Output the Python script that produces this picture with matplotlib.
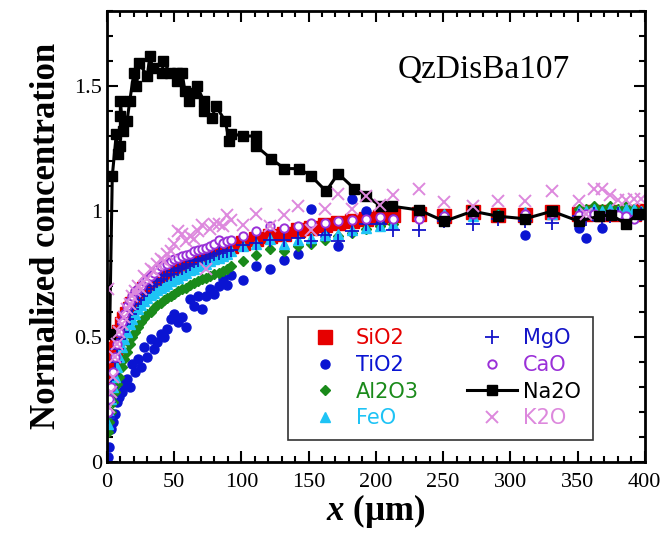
import matplotlib
matplotlib.use("Agg")
import matplotlib.pyplot as plt
from matplotlib.ticker import MultipleLocator

plt.rcParams["font.family"] = ["Liberation Serif", "DejaVu Serif"]
plt.rcParams["mathtext.fontset"] = "custom"
plt.rcParams["mathtext.bfit"] = "Liberation Serif:italic:bold"

# traverse positions shared by most oxides (um)
x_pts = [0.5, 1.5, 3, 4.5, 6, 7.5, 9, 11, 13, 15, 17, 19, 21, 23, 25, 27.5, 30, 32.5, 35, 37.5,
         40, 42.5, 45, 47.5, 50, 53, 56, 59, 62, 65, 68, 71, 74, 77, 80, 83, 86, 89, 92, 101,
         111, 121, 132, 142, 152, 162, 172, 182, 193, 203, 213, 232, 251, 272, 291, 311, 331, 351, 356, 362,
         368, 374, 380, 386, 392, 397]

sio2 = [0.16, 0.27, 0.33, 0.39, 0.45, 0.49, 0.52, 0.55, 0.57, 0.59, 0.61, 0.63, 0.645, 0.66, 0.675, 0.69, 0.70, 0.71, 0.72, 0.73,
        0.74, 0.75, 0.755, 0.76, 0.77, 0.78, 0.785, 0.79, 0.80, 0.81, 0.815, 0.82, 0.83, 0.835, 0.84, 0.845, 0.85, 0.855, 0.86, 0.875,
        0.89, 0.90, 0.91, 0.925, 0.935, 0.945, 0.955, 0.96, 0.97, 0.975, 0.985, 0.99, 0.98, 0.995, 0.985, 0.985, 0.995, 0.99, 0.99, 0.995,
        0.99, 0.995, 0.99, 0.995, 0.99, 1.0]

tio2 = [0.02, 0.06, 0.13, 0.16, 0.19, 0.24, 0.26, 0.28, 0.31, 0.33, 0.30, 0.39, 0.36, 0.41, 0.38, 0.46, 0.42, 0.49, 0.45, 0.48,
        0.51, 0.50, 0.53, 0.57, 0.59, 0.56, 0.58, 0.54, 0.65, 0.62, 0.66, 0.61, 0.66, 0.69, 0.67, 0.70, 0.73, 0.705, 0.745, 0.725,
        0.78, 0.77, 0.805, 0.83, 1.01, 0.90, 0.86, 1.05, 1.0, 0.95, 0.97, 0.99, 0.98, 0.99, 0.98, 0.905, 0.99, 0.935, 0.895, 0.98,
        0.935, 0.99, 0.99, 0.98, 0.99, 0.99]

al2o3 = [0.12, 0.16, 0.20, 0.24, 0.28, 0.31, 0.34, 0.38, 0.41, 0.44, 0.47, 0.50, 0.52, 0.54, 0.56, 0.575, 0.59, 0.60, 0.615, 0.625,
         0.635, 0.645, 0.655, 0.66, 0.67, 0.68, 0.69, 0.695, 0.705, 0.715, 0.72, 0.73, 0.735, 0.74, 0.75, 0.755, 0.76, 0.77, 0.78, 0.80,
         0.825, 0.85, 0.84, 0.86, 0.87, 0.885, 0.90, 0.915, 0.93, 0.94, 0.95, 0.99, 0.985, 0.99, 0.99, 0.99, 0.995, 1.01, 1.01, 1.02,
         1.01, 1.02, 1.01, 1.02, 1.01, 1.0]

feo = [0.15, 0.20, 0.25, 0.30, 0.34, 0.38, 0.42, 0.46, 0.49, 0.52, 0.55, 0.57, 0.59, 0.61, 0.625, 0.64, 0.655, 0.665, 0.675, 0.685,
       0.695, 0.70, 0.71, 0.72, 0.73, 0.735, 0.745, 0.755, 0.765, 0.77, 0.78, 0.785, 0.79, 0.80, 0.81, 0.815, 0.82, 0.83, 0.84, 0.86,
       0.87, 0.89, 0.87, 0.885, 0.895, 0.905, 0.91, 0.925, 0.935, 0.94, 0.95, 0.99, 0.99, 0.98, 0.985, 0.995, 0.99, 1.0, 1.0, 1.01,
       1.0, 1.01, 1.0, 1.01, 1.01, 1.0]

mgo = [0.18, 0.24, 0.30, 0.35, 0.40, 0.45, 0.49, 0.52, 0.55, 0.57, 0.59, 0.61, 0.63, 0.645, 0.66, 0.675, 0.69, 0.70, 0.71, 0.72,
       0.73, 0.74, 0.745, 0.75, 0.76, 0.77, 0.775, 0.78, 0.79, 0.80, 0.805, 0.81, 0.815, 0.82, 0.83, 0.835, 0.84, 0.84, 0.845, 0.866,
       0.872, 0.886, 0.886, 0.892, 0.88, 0.905, 0.88, 0.92, 0.95, 0.95, 0.925, 0.925, 0.96, 0.95, 0.97, 0.96, 0.955, 0.98, 0.97, 0.99,
       0.97, 0.98, 0.99, 0.97, 0.98, 0.99]

cao = [0.20, 0.25, 0.30, 0.36, 0.42, 0.47, 0.52, 0.56, 0.59, 0.62, 0.64, 0.66, 0.68, 0.69, 0.70, 0.72, 0.73, 0.74, 0.755, 0.77,
       0.78, 0.785, 0.79, 0.80, 0.81, 0.815, 0.82, 0.825, 0.83, 0.84, 0.845, 0.85, 0.855, 0.86, 0.87, 0.885, 0.875, 0.88, 0.885, 0.90,
       0.92, 0.94, 0.935, 0.94, 0.955, 0.955, 0.96, 0.965, 0.97, 0.975, 0.97, 0.97, 0.98, 0.99, 0.98, 0.99, 0.99, 0.985, 0.99, 0.99,
       0.98, 0.99, 0.985, 0.98, 0.97, 0.99]

k2o = [0.69, 0.22, 0.28, 0.34, 0.42, 0.47, 0.52, 0.55, 0.58, 0.61, 0.63, 0.66, 0.68, 0.70, 0.69, 0.74, 0.73, 0.77, 0.76, 0.79,
       0.81, 0.80, 0.83, 0.84, 0.87, 0.92, 0.91, 0.88, 0.90, 0.89, 0.92, 0.945, 0.77, 0.93, 0.95, 0.95, 0.94, 0.985, 0.965, 0.945,
       0.99, 0.94, 0.985, 1.02, 0.925, 1.01, 1.07, 1.01, 1.06, 1.025, 1.065, 1.09, 1.035, 1.02, 1.04, 1.04, 1.08, 1.04, 0.99, 1.09,
       1.09, 1.065, 1.045, 1.045, 1.05, 1.05]

# Na2O has its own positions (uphill diffusion peak)
na2o_x = [2, 4, 7, 8, 10, 10, 10, 12, 15, 17, 20, 22, 24, 30, 32, 34, 41, 42, 47, 52,
          52, 56, 58, 61, 65, 67, 72, 72, 78, 81, 88, 91, 92, 101, 111, 111, 122, 132, 143, 152,
          163, 172, 184, 193, 204, 212, 232, 251, 272, 291, 311, 331, 351, 366, 375, 386, 395, 400]
na2o = [0.51, 1.14, 1.31, 1.23, 1.26, 1.38, 1.44, 1.32, 1.36, 1.44, 1.55, 1.50, 1.59, 1.54, 1.62, 1.57, 1.55, 1.60, 1.55, 1.55,
        1.52, 1.55, 1.48, 1.44, 1.47, 1.50, 1.44, 1.40, 1.37, 1.42, 1.36, 1.28, 1.31, 1.30, 1.30, 1.26, 1.21, 1.17, 1.17, 1.14,
        1.08, 1.15, 1.09, 1.06, 1.02, 1.02, 1.005, 0.96, 1.0, 0.98, 0.97, 1.0, 0.96, 0.98, 0.985, 0.95, 0.99, 0.99]


def main():
    fig = plt.figure(figsize=(6.64, 5.34), dpi=100)
    ax = fig.add_axes([0.161, 0.135, 0.81, 0.845])

    ax.plot(x_pts, sio2, "s", color="#e60000", ms=9.5, ls="none", label="SiO2")
    ax.plot(x_pts, tio2, "o", color="#0a14d2", ms=6.5, ls="none", label="TiO2")
    ax.plot(x_pts, al2o3, "D", color="#1a8a1a", ms=5, ls="none", label="Al2O3")
    ax.plot(x_pts, feo, "^", color="#1ec3f5", ms=7.5, ls="none", label="FeO")
    ax.plot(x_pts, mgo, "+", color="#1414c8", ms=10, mew=1.3, ls="none", label="MgO")
    ax.plot(x_pts, cao, "o", mfc="white", mec="#9a30d8", mew=1.4, ms=6, ls="none", label="CaO")
    ax.plot(na2o_x, na2o, "-s", color="black", lw=2.2, ms=7, label="Na2O")
    ax.plot(x_pts, k2o, "x", color="#dd88dd", ms=9, mew=1.4, ls="none", label="K2O")

    ax.set_xlim(0, 400)
    ax.set_ylim(0, 1.8)
    ax.xaxis.set_major_locator(MultipleLocator(50))
    ax.xaxis.set_minor_locator(MultipleLocator(10))
    ax.yaxis.set_minor_locator(MultipleLocator(0.1))
    ax.set_yticks([0, 0.5, 1, 1.5])
    ax.set_yticklabels(["0", "0.5", "1", "1.5"])
    ax.tick_params(which="both", direction="in", top=True, right=True, labelsize=16, width=1.5)
    ax.tick_params(which="major", length=8)
    ax.tick_params(which="minor", length=4)
    ax.tick_params(axis="x", pad=8)
    for s in ax.spines.values():
        s.set_linewidth(2)

    ax.set_xlabel(r"$\mathbfit{x}$ (µm)", fontsize=25, fontweight="bold", labelpad=0)
    ax.set_ylabel("Normalized concentration", fontsize=25, fontweight="bold", labelpad=8)
    ax.text(0.86, 0.87, "QzDisBa107", transform=ax.transAxes, fontsize=24, ha="right", va="center")

    leg_colors = ["#e60000", "#0a14d2", "#1a8a1a", "#1ec3f5", "#1414c8", "#9a30d8", "black", "#dd88dd"]
    leg = ax.legend(ncol=2, loc="lower right", bbox_to_anchor=(0.903, 0.049), borderaxespad=0,
                    prop={"family": "DejaVu Sans", "size": 15}, frameon=True, fancybox=False,
                    edgecolor="black", handlelength=2.4, handletextpad=0.3, columnspacing=2.3,
                    labelspacing=0.32, borderpad=0.55, numpoints=1)
    leg.get_frame().set_linewidth(1.2)
    for t, c in zip(leg.get_texts(), leg_colors):
        t.set_color(c)

    fig.savefig("out.png", dpi=100)


if __name__ == "__main__":
    main()
